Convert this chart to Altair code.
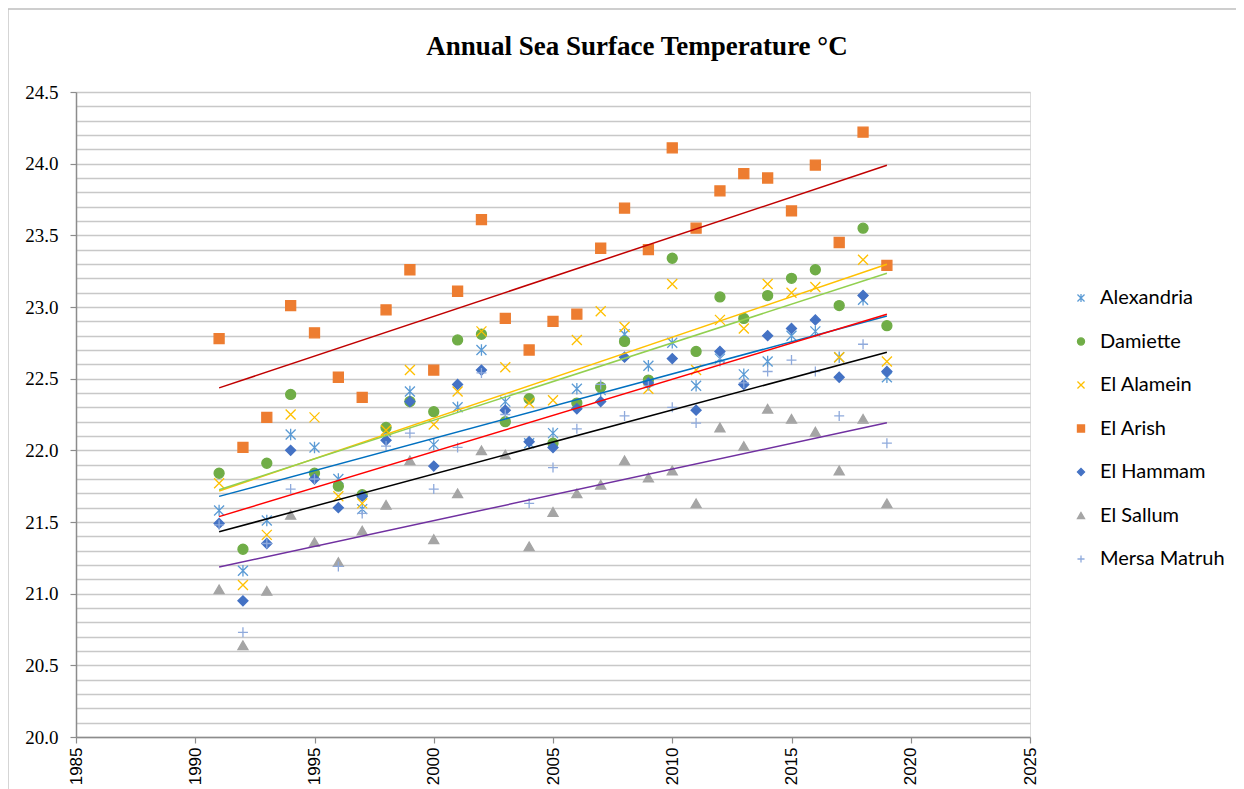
import altair as alt
import pandas as pd

# ---------------- data ----------------
years = list(range(1991, 2020))

stations = ["Alexandria", "Damiette", "El Alamein", "El Arish",
            "El Hammam", "El Sallum", "Mersa Matruh"]

alexandria = [21.58, 21.16, 21.51, 22.11, 22.02, 21.80, 21.59, 22.13, 22.41, 22.04,
              22.30, 22.70, 22.34, 22.05, 22.12, 22.43, 22.42, 22.81, 22.59, 22.75,
              22.45, 22.64, 22.53, 22.62, 22.80, 22.83, 22.65, 23.05, 22.51]
damiette = [21.84, 21.31, 21.91, 22.39, 21.84, 21.75, 21.69, 22.16, 22.34, 22.27,
            22.77, 22.81, 22.20, 22.36, 22.05, 22.33, 22.44, 22.76, 22.49, 23.34,
            22.69, 23.07, 22.92, 23.08, 23.20, 23.26, 23.01, 23.55, 22.87]
el_alamein = [21.77, 21.06, 21.41, 22.25, 22.23, 21.68, 21.63, 22.14, 22.56, 22.18,
              22.41, 22.83, 22.58, 22.33, 22.35, 22.77, 22.97, 22.86, 22.43, 23.16,
              22.56, 22.91, 22.85, 23.16, 23.10, 23.14, 22.65, 23.33, 22.62]
el_arish = [22.78, 22.02, 22.23, 23.01, 22.82, 22.51, 22.37, 22.98, 23.26, 22.56,
            23.11, 23.61, 22.92, 22.70, 22.90, 22.95, 23.41, 23.69, 23.40, 24.11,
            23.55, 23.81, 23.93, 23.90, 23.67, 23.99, 23.45, 24.22, 23.29]
el_hammam = [21.49, 20.95, 21.35, 22.00, 21.80, 21.60, 21.68, 22.07, 22.34, 21.89,
             22.46, 22.56, 22.28, 22.06, 22.02, 22.29, 22.34, 22.65, 22.47, 22.64,
             22.28, 22.69, 22.46, 22.80, 22.85, 22.91, 22.51, 23.08, 22.55]
el_sallum = [21.03, 20.64, 21.02, 21.55, 21.36, 21.22, 21.44, 21.62, 21.93, 21.38,
             21.70, 22.00, 21.97, 21.33, 21.57, 21.70, 21.76, 21.93, 21.81, 21.86,
             21.63, 22.16, 22.03, 22.29, 22.22, 22.13, 21.86, 22.22, 21.63]
mersa_matruh = [21.48, 20.73, 21.35, 21.73, 21.80, 21.19, 21.56, 22.03, 22.12, 21.73,
                22.02, 22.54, 22.25, 21.63, 21.88, 22.15, 22.46, 22.24, 22.45, 22.30,
                22.19, 22.62, 22.47, 22.55, 22.63, 22.55, 22.24, 22.74, 22.05]

series = [alexandria, damiette, el_alamein, el_arish, el_hammam, el_sallum, mersa_matruh]

title_text = ["Annual Sea Surface Temperature °C"]
x_ticks = [1985, 1990, 1995, 2000, 2005, 2010, 2015, 2020, 2025]
y_grid = [round(20 + i * 0.1, 1) for i in range(46)]

# ---------------- styles ----------------
STAR = "M-1,-1L1,1M-1,1L1,-1M0,-1.15L0,1.15"
XSHAPE = "M-1,-1L1,1M-1,1L1,-1"
PLUS = "M-1,0L1,0M0,-1L0,1"

marker_colors = ["#5B9BD5", "#70AD47", "#FFC000", "#ED7D31", "#4472C4", "#A5A5A5", "#8FAADC"]
marker_fills = ["transparent", "#70AD47", "transparent", "#ED7D31", "#4472C4", "#A5A5A5", "transparent"]
marker_shapes = [STAR, "circle", XSHAPE, "square", "diamond", "triangle-up", PLUS]
trend_colors = ["#0070C0", "#FFC000", "#92D050", "#C00000", "#FF0000", "#7030A0", "#000000"]

rows = []
for s, vals in zip(stations, series):
    for yr, v in zip(years, vals):
        rows.append({"Station": s, "Year": yr, "Temp": v})
df = pd.DataFrame(rows)

AXIS_COL = "#8C8C8C"
half_test = "abs(datum.value*2 - round(datum.value*2)) < 0.01"

x_enc = alt.X(
    "Year:Q",
    scale=alt.Scale(domain=[1985, 2025], nice=False, zero=False),
    axis=alt.Axis(values=x_ticks, format="d", labelAngle=270, grid=False,
                  domainColor=AXIS_COL, domainWidth=1.5, tickColor=AXIS_COL,
                  tickSize=6, tickWidth=1.2, labelFont="Liberation Sans",
                  labelFontSize=17, labelColor="#000000", labelPadding=4,
                  labelOverlap=False, labelFlush=False),
    title=None,
)
y_enc = alt.Y(
    "Temp:Q",
    scale=alt.Scale(domain=[20, 24.5], nice=False, zero=False),
    axis=alt.Axis(values=y_grid, grid=True, gridColor="#C8C8C8", gridWidth=1.3,
                  domainColor=AXIS_COL, domainWidth=1.5,
                  tickColor={"condition": {"test": half_test, "value": AXIS_COL},
                             "value": "transparent"},
                  tickSize=6, tickWidth=1.2,
                  labelExpr=half_test + " ? format(datum.value, '.1f') : ''",
                  labelFont="Liberation Serif", labelFontSize=19,
                  labelColor="#000000", labelPadding=12, labelOverlap=False,
                  labelFlush=False),
    title=None,
)

legend = alt.Legend(title=None, orient="none", legendX=995, legendY=196,
                    labelFont="Lato", labelFontSize=20, labelColor="#000000",
                    symbolSize=50, rowPadding=23.5, labelOffset=9,
                    symbolStrokeWidth=1.3, padding=0)

points = alt.Chart(df).mark_point(size=100, strokeWidth=1.3, opacity=1).encode(
    x=x_enc,
    y=y_enc,
    shape=alt.Shape("Station:N", scale=alt.Scale(domain=stations, range=marker_shapes), legend=legend),
    stroke=alt.Stroke("Station:N", scale=alt.Scale(domain=stations, range=marker_colors), legend=legend),
    fill=alt.Fill("Station:N", scale=alt.Scale(domain=stations, range=marker_fills), legend=legend),
)

trend = alt.Chart(df).transform_regression(
    "Year", "Temp", groupby=["Station"]
).mark_line(strokeWidth=1.5).encode(
    x=x_enc,
    y=y_enc,
    color=alt.Color("Station:N", scale=alt.Scale(domain=stations, range=trend_colors), legend=None),
    detail="Station:N",
)

border = alt.Chart(pd.DataFrame({"k": [0]})).mark_rect(
    fill="transparent", stroke="#BFBFBF", strokeWidth=1.3
).encode(
    x=alt.value(-68), x2=alt.value(1400), y=alt.value(-83), y2=alt.value(900)
)

title = alt.Chart(pd.DataFrame({"t": title_text})).mark_text(
    font="Liberation Serif", fontSize=27, fontWeight="bold", color="#000000",
    align="center", baseline="alphabetic"
).encode(
    text="t:N", x=alt.value(561), y=alt.value(-37)
)

chart = alt.layer(border, points, trend, title).properties(
    width=954,
    height=645,
    autosize=alt.AutoSizeParams(type="none"),
    padding={"left": 68, "top": 84, "right": 206, "bottom": 60},
).configure_view(stroke="transparent").configure(background="white")

chart.save("out.html", embed_options={"renderer": "svg", "actions": False})
